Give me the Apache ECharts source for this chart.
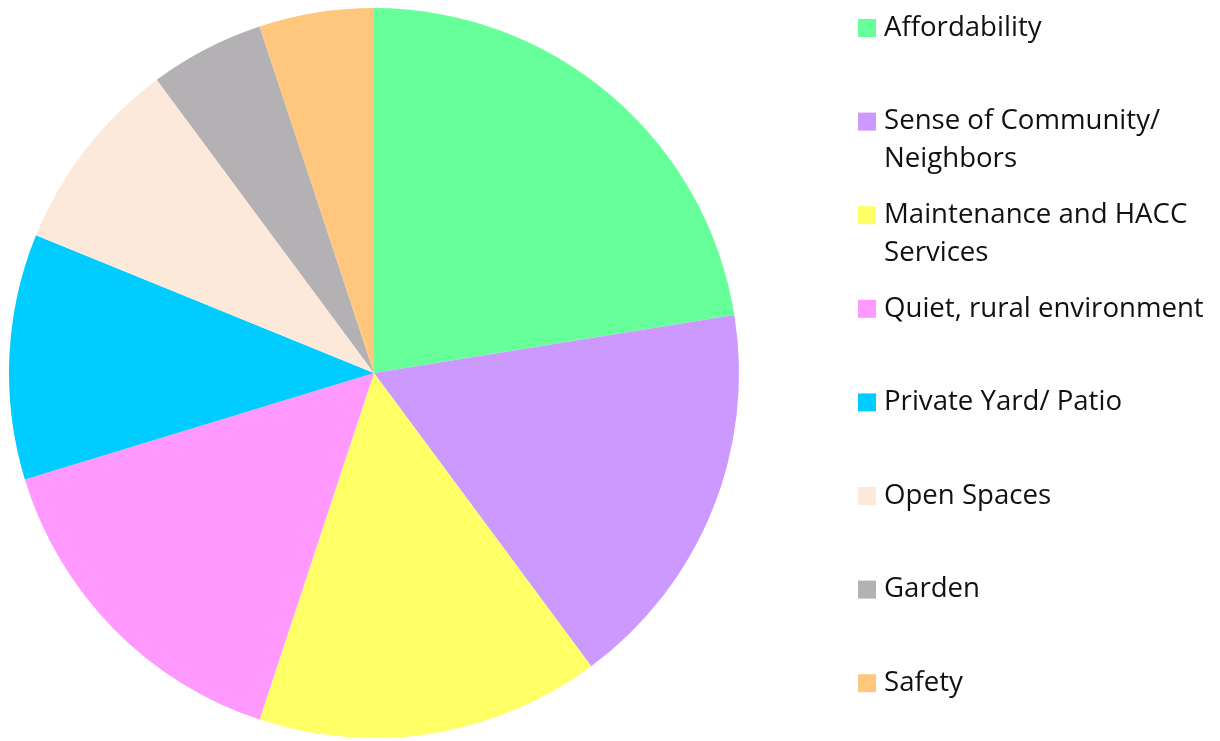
<!DOCTYPE html>
<html>
<head>
<meta charset="utf-8">
<script src="https://cdn.jsdelivr.net/npm/echarts@6/dist/echarts.min.js"></script>
<style>
  html, body { margin: 0; padding: 0; background: #fff; }
  #chart { width: 1220px; height: 741px; }
</style>
</head>
<body>
<div id="chart"></div>
<script>
// what residents like about living there
const categories = [
  'Affordability',
  'Sense of Community/ Neighbors',
  'Maintenance and HACC Services',
  'Quiet, rural environment',
  'Private Yard/ Patio',
  'Open Spaces',
  'Garden',
  'Safety'
];
const legendLabels = [
  'Affordability',
  'Sense of Community/\nNeighbors',
  'Maintenance and HACC\nServices',
  'Quiet, rural environment',
  'Private Yard/ Patio',
  'Open Spaces',
  'Garden',
  'Safety'
];
const counts = [31, 24, 21, 21, 15, 12, 7, 7];
const colors = ['#66FF99', '#CC99FF', '#FFFF66', '#FF99FF', '#00CCFF', '#FDE9D9', '#B3B1B3', '#FFC77E'];

const chart = echarts.init(document.getElementById('chart'));

const LINE = 38;
const legends = categories.map((name, i) => {
  const lines = legendLabels[i].split('\n').length;
  const iconCenter = 28 + i * 93.6;
  // legend text is centred on the icon, so pad with empty lines on top
  // to keep the first line level with the square
  const text = '\n'.repeat(lines - 1) + legendLabels[i];
  const boxH = (2 * lines - 1) * LINE;
  return {
    data: [name],
    orient: 'vertical',
    left: 858,
    top: iconCenter - boxH / 2,
    padding: 0,
    icon: 'rect',
    itemWidth: 18,
    itemHeight: 18,
    selectedMode: false,
    formatter: () => text,
    textStyle: {
      fontFamily: 'Open Sans',
      fontSize: 27.6,
      color: '#111',
      lineHeight: LINE,
      padding: [0, 0, 0, 3]
    }
  };
});

chart.setOption({
  animation: false,
  color: colors,
  legend: legends,
  series: [{
    type: 'pie',
    center: [374, 373],
    radius: 365,
    startAngle: 90,
    clockwise: true,
    label: { show: false },
    labelLine: { show: false },
    itemStyle: { borderWidth: 0 },
    emphasis: { disabled: true },
    data: categories.map((name, i) => ({ name, value: counts[i] }))
  }]
});
</script>
</body>
</html>
